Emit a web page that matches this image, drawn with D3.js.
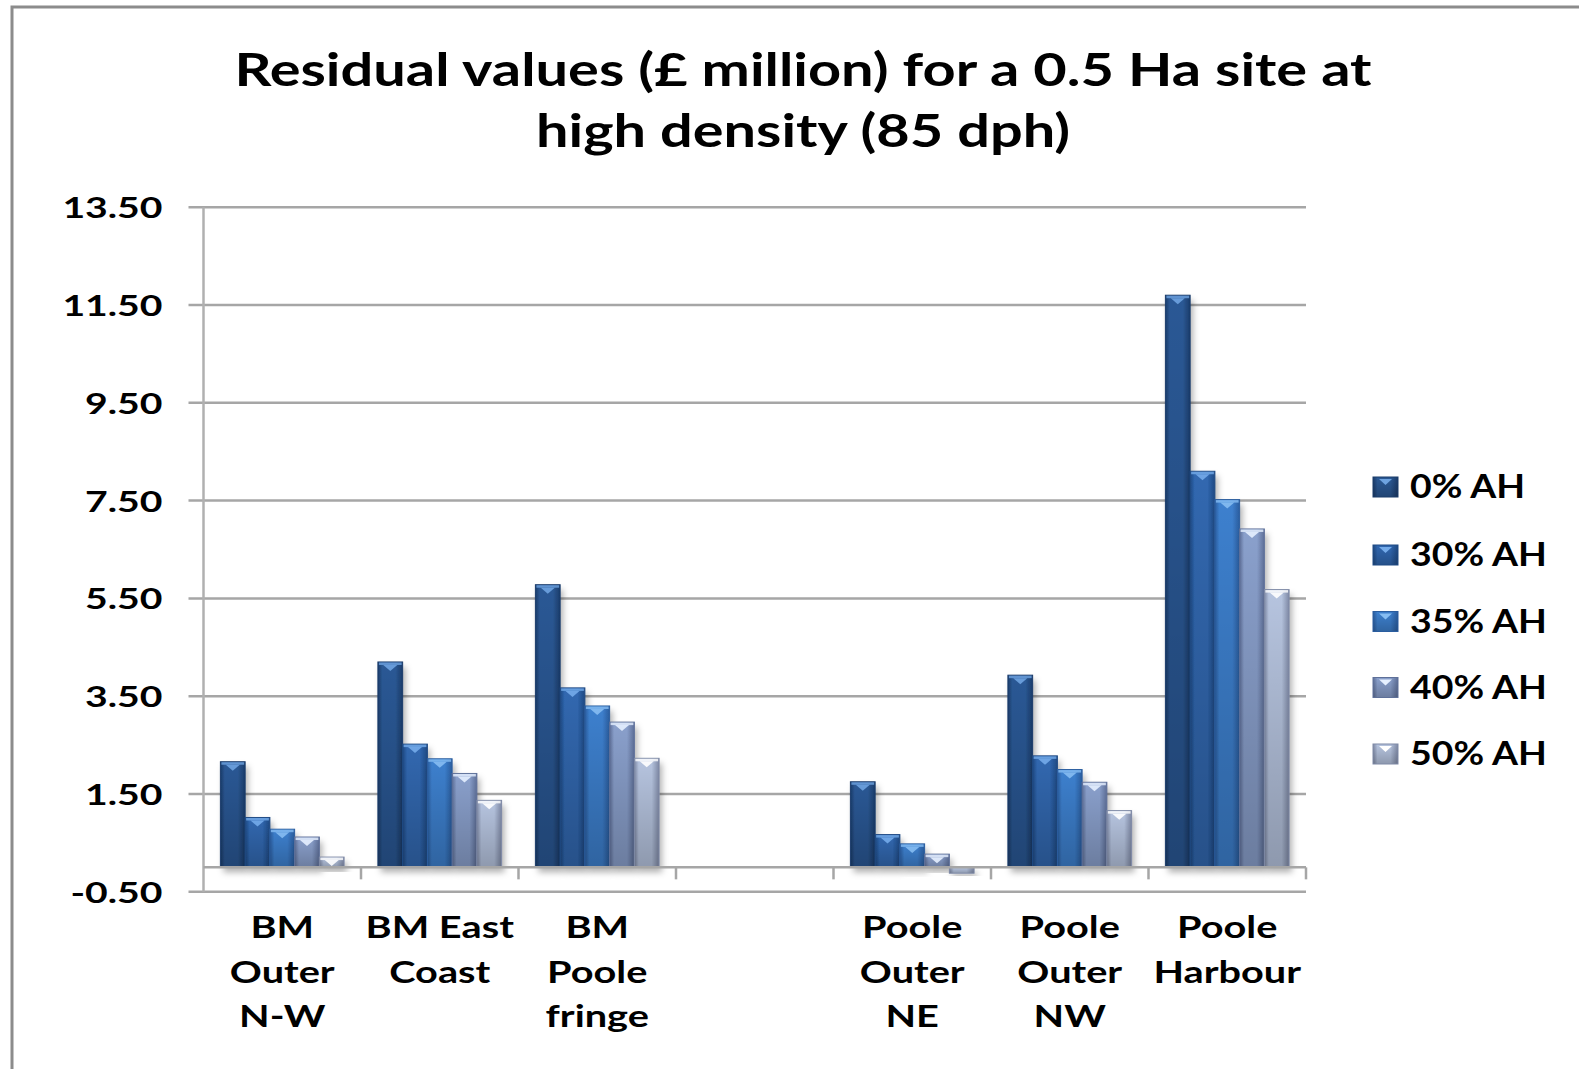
<!DOCTYPE html>
<html>
<head>
<meta charset="utf-8">
<script src="https://cdn.jsdelivr.net/npm/d3@7/dist/d3.min.js"></script>
<style>
  html, body { margin: 0; padding: 0; background: #fff; }
  svg { display: block; }
  text { font-family: Lato, "Open Sans", sans-serif; font-weight: 700; fill: #000; }
</style>
</head>
<body>
<svg id="chart" width="1579" height="1069"></svg>
<script>
// ---------- data ----------
const titleLines = ["Residual values (£ million) for a 0.5 Ha site at", "high density (85 dph)"];
const categories = ["BM Outer N-W", "BM East Coast", "BM Poole fringe", "", "Poole Outer NE", "Poole Outer NW", "Poole Harbour"];
const categoryLabelLines = [["BM", "Outer", "N-W"], ["BM East", "Coast"], ["BM", "Poole", "fringe"], [], ["Poole", "Outer", "NE"], ["Poole", "Outer", "NW"], ["Poole", "Harbour"]];
const seriesNames = ["0% AH", "30% AH", "35% AH", "40% AH", "50% AH"];
const values0  = [2.16, 4.20, 5.78, null, 1.75, 3.93, 11.70];
const values30 = [1.02, 2.52, 3.67, null, 0.67, 2.28, 8.10];
const values35 = [0.78, 2.22, 3.30, null, 0.48, 2.00, 7.52];
const values40 = [0.62, 1.92, 2.97, null, 0.27, 1.74, 6.92];
const values50 = [0.21, 1.37, 2.23, null, -0.12, 1.16, 5.68];
const yTicks = [-0.5, 1.5, 3.5, 5.5, 7.5, 9.5, 11.5, 13.5];

const seriesValues = [values0, values30, values35, values40, values50];
// colours: [edge, centre, highlight]
const seriesColors = [
  ["#1b3c6b", "#2b5995", "#6ea3e0"],
  ["#1f4a84", "#3067b0", "#74abea"],
  ["#2a5d9f", "#3d80ce", "#86bdf2"],
  ["#5e7099", "#8aa0cc", "#e6f0ff"],
  ["#7f8aa6", "#b6c4df", "#ffffff"]
];

// ---------- layout ----------
const svg = d3.select("#chart");
const plotLeft = 203.5, plotRight = 1306, plotTop = 207.2, plotBottom = 891.8;

const x0 = d3.scaleBand().domain(d3.range(categories.length)).range([plotLeft, plotRight]).paddingInner(0).paddingOuter(0);
const x1 = d3.scaleBand().domain(d3.range(seriesNames.length)).range([0, x0.bandwidth()]).paddingInner(0).paddingOuter(0.683);
const y = d3.scaleLinear().domain([-0.5, 13.5]).range([plotBottom, plotTop]);

// helper: stretch text to a width factor
function stretch(sel, k) {
  sel.each(function () {
    const w = this.getComputedTextLength();
    d3.select(this).attr("textLength", w * k).attr("lengthAdjust", "spacingAndGlyphs");
  });
}
function fitWidth(sel, target) {
  sel.attr("textLength", target).attr("lengthAdjust", "spacingAndGlyphs");
}

// ---------- defs ----------
const defs = svg.append("defs");
seriesColors.forEach((c, i) => {
  const g = defs.append("linearGradient").attr("id", "hg" + i).attr("x1", 0).attr("x2", 1).attr("y1", 0).attr("y2", 0);
  g.append("stop").attr("offset", "0%").attr("stop-color", c[0]);
  g.append("stop").attr("offset", "18%").attr("stop-color", c[1]);
  g.append("stop").attr("offset", "70%").attr("stop-color", c[1]);
  g.append("stop").attr("offset", "100%").attr("stop-color", c[0]);
});
const vg = defs.append("linearGradient").attr("id", "vshade").attr("x1", 0).attr("x2", 0).attr("y1", 0).attr("y2", 1);
vg.append("stop").attr("offset", "0%").attr("stop-color", "#000").attr("stop-opacity", 0);
vg.append("stop").attr("offset", "100%").attr("stop-color", "#000").attr("stop-opacity", 0.22);
const sh = defs.append("filter").attr("id", "shadow").attr("x", "-20%").attr("y", "-20%").attr("width", "160%").attr("height", "160%");
sh.append("feDropShadow").attr("dx", 3).attr("dy", 5).attr("stdDeviation", 3).attr("flood-color", "#000").attr("flood-opacity", 0.3);

// ---------- border ----------
svg.append("rect").attr("x", 12).attr("y", 7).attr("width", 1700).attr("height", 1200)
  .attr("fill", "none").attr("stroke", "#8c8c8c").attr("stroke-width", 3);

// ---------- title ----------
const titleY = [86, 147];
const titleW = [1137, 534];
titleLines.forEach((t, i) => {
  svg.append("text").attr("x", 803).attr("y", titleY[i]).attr("text-anchor", "middle")
    .style("font-size", "46px").text(t).call(fitWidth, titleW[i]);
});

// ---------- gridlines & y axis ----------
const grid = svg.append("g");
grid.selectAll("line").data(yTicks).join("line")
  .attr("x1", plotLeft - 15).attr("x2", plotRight)
  .attr("y1", d => y(d)).attr("y2", d => y(d))
  .attr("stroke", "#a6a6a6").attr("stroke-width", 2.5);

const fmt = d => d3.format(".2f")(d).replace("\u2212", "-");
const yAxis = d3.axisLeft(y).tickValues(yTicks).tickFormat(fmt).tickSize(0).tickPadding(41);
const ya = svg.append("g").attr("transform", `translate(${plotLeft},0)`).call(yAxis);
ya.select(".domain").remove();
ya.selectAll("text").style("font-size", "29px").attr("dy", "0.36em").style("font-family", "Lato, sans-serif").style("font-weight", 700).attr("fill", "#000");
ya.selectAll("text").call(stretch, 1.35);

svg.append("line").attr("x1", plotLeft).attr("x2", plotLeft).attr("y1", plotTop).attr("y2", plotBottom)
  .attr("stroke", "#b0b0b0").attr("stroke-width", 2.5);

// ---------- bars ----------
const barsG = svg.append("g");
categories.forEach((cat, ci) => {
  seriesValues.forEach((vals, si) => {
    const v = vals[ci];
    if (v === null || v === undefined) return;
    const bx = x0(ci) + x1(si);
    const bw = x1.bandwidth();
    const yTop = Math.min(y(v), y(0));
    const h = Math.abs(y(v) - y(0));
    const g = barsG.append("g");
    g.append("rect").attr("x", bx).attr("y", yTop).attr("width", bw).attr("height", h)
      .attr("fill", `url(#hg${si})`).attr("filter", "url(#shadow)");
    g.append("rect").attr("x", bx).attr("y", yTop).attr("width", bw).attr("height", h)
      .attr("fill", "url(#vshade)");
    g.append("rect").attr("x", bx).attr("y", yTop).attr("width", bw).attr("height", h)
      .attr("fill", "none").attr("stroke", seriesColors[si][0]).attr("stroke-width", 1);
    if (v > 0) {
      // top bevel highlight
      g.append("rect").attr("x", bx + 1).attr("y", yTop + 0.5).attr("width", bw - 2).attr("height", 2.5)
        .attr("fill", seriesColors[si][2]).attr("opacity", 0.8);
      const cx = bx + bw / 2;
      g.append("path")
        .attr("d", `M${cx - 7},${yTop + 3} L${cx + 7},${yTop + 3} L${cx},${yTop + 9} Z`)
        .attr("fill", seriesColors[si][2]).attr("opacity", 0.9);
    }
  });
});

// ---------- category axis ----------
svg.append("line").attr("x1", plotLeft).attr("x2", plotRight).attr("y1", y(0)).attr("y2", y(0))
  .attr("stroke", "#a6a6a6").attr("stroke-width", 2.5);
const tickXs = d3.range(1, categories.length + 1).map(i => i < categories.length ? x0(i) : x0(i - 1) + x0.bandwidth());
svg.append("g").selectAll("line").data(tickXs).join("line")
  .attr("x1", d => d).attr("x2", d => d).attr("y1", y(0)).attr("y2", y(0) + 12)
  .attr("stroke", "#a6a6a6").attr("stroke-width", 2.5);

const catG = svg.append("g");
const lineBase = [938, 982.5, 1027];
categoryLabelLines.forEach((lines, ci) => {
  lines.forEach((ln, li) => {
    catG.append("text").attr("x", x0(ci) + x0.bandwidth() / 2).attr("y", lineBase[li])
      .attr("text-anchor", "middle").style("font-size", "31px").text(ln);
  });
});
catG.selectAll("text").call(stretch, 1.28);

// ---------- legend ----------
const legendBase = [498, 566, 632.5, 698.5, 765];
const legG = svg.append("g");
seriesNames.forEach((name, si) => {
  const by = legendBase[si];
  const sx = 1373, sy = by - 21, sw = 25, shh = 20;
  legG.append("rect").attr("x", sx).attr("y", sy).attr("width", sw).attr("height", shh).attr("fill", `url(#hg${si})`);
  legG.append("rect").attr("x", sx).attr("y", sy).attr("width", sw).attr("height", shh).attr("fill", "url(#vshade)");
  legG.append("rect").attr("x", sx).attr("y", sy).attr("width", sw).attr("height", shh).attr("fill", "none").attr("stroke", seriesColors[si][0]).attr("stroke-width", 1);
  legG.append("path").attr("d", `M${sx + 6},${sy + 2} L${sx + 19},${sy + 2} L${sx + 12.5},${sy + 8} Z`).attr("fill", seriesColors[si][2]);
  legG.append("text").attr("x", 1410).attr("y", by).style("font-size", "32px").text(name);
});
legG.selectAll("text").call(stretch, 1.17);
</script>
</body>
</html>
